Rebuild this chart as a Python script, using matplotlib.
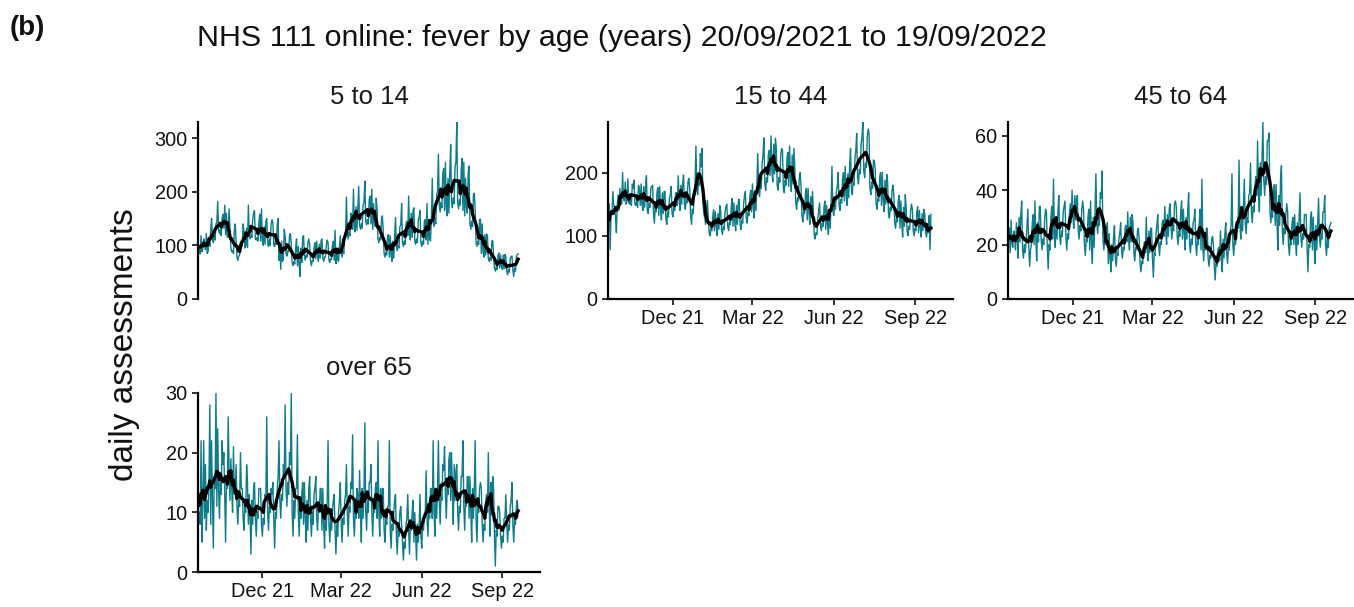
"""
fever_by_age.py  -  NHS 111 online fever assessments by age band, daily with 7-day average.
"""

import matplotlib
matplotlib.use("Agg")
import matplotlib.dates as mdates
import matplotlib.pyplot as plt
import numpy as np
import pandas as pd


START_DATE = "2021-09-20"
END_DATE = "2022-09-19"

PANEL_TITLES = ["5 to 14", "15 to 44", "45 to 64", "over 65"]
X_TICK_DATES = ["2021-12-01", "2022-03-01", "2022-06-01", "2022-09-01"]
Y_TICKS = [[0, 100, 200, 300], [0, 100, 200], [0, 20, 40, 60], [0, 10, 20, 30]]

# daily assessments, one row per week (Mon..Sun), last row is the final day
age_5_14 = [
    98, 84, 118, 88, 95, 112, 104,
    92, 122, 85, 88, 115, 98, 128,
    150, 112, 105, 118, 110, 140, 142,
    182, 128, 122, 130, 118, 150, 158,
    132, 175, 120, 160, 115, 128, 168,
    130, 95, 88, 90, 85, 128, 140,
    110, 78, 72, 80, 82, 100, 108,
    98, 140, 125, 95, 100, 132, 96,
    175, 118, 112, 120, 115, 148, 160,
    165, 112, 110, 115, 108, 142, 158,
    108, 168, 110, 100, 135, 102, 145,
    150, 105, 98, 112, 100, 140, 148,
    142, 100, 98, 108, 102, 138, 150,
    72, 100, 55, 108, 70, 75, 130,
    118, 85, 80, 90, 88, 118, 122,
    100, 68, 62, 70, 65, 95, 112,
    62, 98, 65, 42, 95, 68, 115,
    118, 80, 72, 82, 78, 105, 112,
    102, 70, 62, 72, 70, 95, 105,
    75, 108, 80, 70, 102, 76, 108,
    112, 76, 70, 78, 78, 100, 110,
    105, 72, 68, 75, 74, 100, 108,
    72, 128, 66, 95, 74, 70, 98,
    118, 85, 78, 90, 85, 120, 125,
    190, 120, 112, 125, 118, 160, 155,
    130, 205, 135, 125, 172, 128, 170,
    210, 138, 130, 140, 132, 175, 180,
    220, 145, 138, 148, 140, 185, 192,
    140, 205, 130, 178, 142, 135, 188,
    165, 112, 105, 115, 110, 148, 155,
    128, 85, 78, 88, 82, 118, 120,
    78, 118, 82, 70, 108, 76, 115,
    152, 98, 90, 100, 95, 135, 138,
    178, 105, 98, 108, 102, 140, 145,
    118, 192, 122, 110, 160, 115, 165,
    170, 108, 102, 112, 105, 148, 152,
    165, 105, 98, 108, 102, 145, 148,
    110, 178, 102, 148, 112, 108, 152,
    225, 145, 135, 150, 140, 195, 200,
    270, 175, 162, 180, 170, 235, 243,
    165, 255, 170, 155, 225, 160, 235,
    288, 180, 170, 188, 178, 245, 256,
    330, 180, 168, 185, 175, 240, 262,
    165, 255, 155, 225, 170, 160, 235,
    248, 140, 130, 145, 135, 195, 197,
    165, 105, 98, 108, 102, 148, 149,
    85, 140, 88, 78, 120, 82, 121,
    118, 75, 70, 78, 72, 108, 109,
    85, 58, 52, 60, 55, 80, 86,
    58, 82, 60, 55, 82, 56, 83,
    78, 52, 45, 55, 50, 75, 79,
    80, 55, 42, 58, 52, 78, 83,
    84,
]

age_15_44 = [
    150, 78, 140, 135, 170, 148, 145,
    130, 105, 150, 165, 140, 175, 150,
    150, 200, 160, 155, 185, 150, 155,
    190, 152, 150, 158, 148, 182, 175,
    188, 150, 148, 155, 145, 180, 175,
    148, 182, 150, 140, 178, 145, 177,
    195, 140, 135, 152, 145, 175, 178,
    180, 135, 120, 145, 138, 170, 176,
    132, 178, 142, 125, 168, 135, 170,
    170, 128, 118, 138, 130, 160, 164,
    178, 135, 130, 145, 140, 168, 168,
    148, 195, 158, 140, 180, 150, 184,
    196, 150, 142, 160, 152, 185, 191,
    175, 132, 118, 142, 135, 168, 180,
    242, 175, 165, 185, 180, 230, 209,
    238, 150, 135, 128, 118, 125, 156,
    130, 105, 100, 112, 108, 130, 141,
    108, 138, 115, 100, 135, 110, 148,
    140, 110, 102, 115, 110, 138, 146,
    150, 115, 108, 122, 118, 145, 159,
    115, 152, 122, 108, 148, 118, 154,
    158, 118, 110, 125, 120, 150, 164,
    170, 128, 120, 138, 132, 162, 172,
    138, 182, 145, 128, 172, 140, 180,
    230, 172, 162, 182, 175, 215, 229,
    255, 182, 172, 192, 185, 228, 235,
    195, 258, 205, 185, 245, 198, 254,
    240, 180, 172, 192, 185, 228, 238,
    235, 175, 168, 188, 180, 222, 232,
    178, 242, 190, 170, 228, 182, 238,
    205, 152, 142, 160, 155, 190, 200,
    178, 132, 122, 140, 135, 168, 175,
    125, 175, 135, 118, 162, 130, 170,
    135, 100, 95, 105, 102, 128, 140,
    152, 115, 108, 120, 115, 145, 155,
    110, 148, 118, 102, 140, 112, 152,
    210, 140, 132, 148, 142, 170, 178,
    200, 150, 140, 158, 152, 190, 200,
    155, 210, 165, 148, 198, 160, 210,
    238, 175, 165, 185, 180, 222, 235,
    262, 192, 182, 205, 198, 245, 256,
    280, 202, 192, 215, 208, 258, 269,
    262, 175, 165, 185, 175, 220, 218,
    205, 150, 142, 160, 155, 192, 200,
    148, 200, 155, 138, 188, 150, 197,
    185, 135, 128, 145, 140, 172, 180,
    165, 120, 112, 128, 122, 155, 164,
    112, 155, 120, 98, 145, 115, 165,
    145, 108, 100, 115, 110, 140, 150,
    142, 108, 100, 112, 108, 138, 146,
    105, 140, 112, 98, 135, 108, 142,
    135, 105, 98, 110, 105, 132, 78,
    134,
]

age_45_64 = [
    26, 17, 29, 20, 19, 25, 23,
    18, 28, 22, 15, 30, 21, 31,
    36, 18, 15, 20, 17, 21, 27,
    33, 19, 12, 18, 20, 28, 31,
    20, 36, 22, 14, 28, 21, 34,
    34, 22, 18, 22, 20, 29, 33,
    32, 19, 11, 20, 18, 30, 34,
    22, 44, 24, 19, 30, 22, 32,
    38, 23, 20, 25, 23, 32, 34,
    36, 23, 18, 24, 22, 31, 35,
    28, 40, 30, 26, 38, 29, 37,
    38, 25, 22, 27, 25, 33, 36,
    33, 20, 16, 22, 21, 30, 33,
    18, 36, 20, 13, 30, 19, 32,
    46, 28, 24, 30, 27, 39, 37,
    47, 22, 18, 22, 20, 25, 28,
    13, 24, 15, 10, 20, 14, 23,
    27, 15, 12, 17, 16, 22, 24,
    28, 18, 15, 19, 18, 26, 27,
    21, 32, 22, 18, 30, 21, 31,
    28, 17, 14, 19, 18, 25, 26,
    22, 13, 10, 14, 13, 19, 21,
    17, 30, 18, 14, 25, 17, 26,
    26, 15, 8, 17, 16, 24, 27,
    31, 20, 16, 21, 20, 28, 29,
    23, 34, 25, 20, 31, 23, 33,
    35, 26, 22, 27, 25, 35, 36,
    34, 23, 20, 25, 23, 32, 36,
    22, 33, 24, 18, 30, 22, 33,
    39, 20, 17, 22, 20, 28, 29,
    33, 20, 16, 22, 20, 28, 33,
    18, 44, 19, 14, 22, 18, 26,
    26, 15, 12, 16, 15, 22, 23,
    20, 12, 7, 13, 12, 18, 19,
    14, 25, 16, 10, 22, 15, 24,
    28, 17, 13, 19, 18, 25, 27,
    46, 20, 16, 22, 20, 24, 27,
    26, 51, 27, 22, 31, 25, 35,
    44, 28, 24, 30, 28, 38, 39,
    50, 32, 28, 34, 32, 42, 45,
    38, 58, 40, 32, 50, 38, 52,
    65, 44, 38, 45, 42, 58, 58,
    61, 32, 28, 33, 30, 40, 42,
    27, 42, 28, 18, 38, 27, 44,
    49, 25, 20, 26, 24, 31, 35,
    32, 20, 16, 22, 20, 28, 30,
    20, 31, 21, 16, 28, 20, 29,
    39, 23, 19, 24, 22, 31, 31,
    31, 19, 10, 20, 19, 30, 32,
    18, 30, 20, 13, 27, 18, 28,
    37, 23, 19, 24, 22, 32, 32,
    38, 20, 16, 22, 19, 26, 27,
    28,
]

age_over_65 = [
    10, 8, 22, 5, 12, 22, 9,
    18, 7, 12, 10, 15, 28, 8,
    22, 12, 4, 16, 14, 30, 11,
    24, 14, 9, 15, 13, 22, 18,
    20, 13, 5, 16, 14, 26, 17,
    12, 19, 14, 10, 21, 13, 13,
    18, 11, 8, 12, 11, 20, 14,
    14, 9, 7, 11, 10, 18, 15,
    8, 13, 9, 3, 12, 8, 14,
    15, 9, 6, 10, 9, 14, 14,
    14, 8, 6, 9, 8, 13, 12,
    26, 10, 7, 11, 10, 14, 13,
    15, 9, 4, 10, 9, 14, 16,
    22, 12, 9, 13, 12, 18, 16,
    28, 14, 11, 15, 13, 20, 18,
    30, 10, 6, 12, 9, 14, 14,
    23, 10, 6, 11, 9, 13, 15,
    8, 15, 9, 5, 12, 7, 14,
    16, 9, 6, 10, 8, 13, 14,
    16, 9, 7, 11, 10, 14, 14,
    7, 14, 8, 4, 11, 7, 12,
    22, 8, 5, 9, 7, 10, 12,
    13, 7, 3, 8, 6, 10, 12,
    15, 8, 5, 9, 8, 12, 13,
    18, 10, 6, 11, 10, 15, 14,
    23, 9, 6, 10, 9, 14, 13,
    9, 17, 10, 5, 14, 9, 13,
    25, 10, 7, 12, 10, 15, 15,
    18, 10, 6, 11, 10, 14, 15,
    9, 22, 10, 6, 14, 9, 14,
    14, 7, 5, 9, 8, 11, 11,
    22, 7, 4, 8, 7, 10, 12,
    13, 6, 3, 7, 6, 10, 11,
    8, 5, 2, 5, 4, 8, 9,
    13, 7, 3, 8, 7, 10, 12,
    5, 10, 6, 2, 8, 5, 8,
    13, 6, 4, 8, 7, 10, 10,
    17, 9, 6, 10, 9, 14, 14,
    9, 22, 10, 6, 14, 9, 14,
    22, 12, 8, 13, 12, 18, 17,
    21, 13, 9, 14, 13, 19, 20,
    12, 20, 13, 8, 18, 12, 17,
    18, 10, 7, 11, 10, 16, 16,
    22, 11, 7, 12, 11, 16, 16,
    9, 16, 10, 5, 14, 9, 14,
    22, 9, 5, 11, 10, 14, 15,
    14, 8, 5, 8, 7, 12, 13,
    10, 20, 11, 6, 15, 10, 16,
    14, 6, 1, 7, 6, 11, 11,
    10, 6, 4, 6, 5, 9, 9,
    13, 8, 5, 8, 7, 11, 12,
    15, 8, 5, 9, 8, 11, 12,
    10,
]

DAILY_COLOUR = "#0e7c8b"
AVG_COLOUR = "black"
FIG_W, FIG_H = 1354, 607

# panel boxes in pixels: (left, top, right, bottom)
PANEL_BOXES = [
    (198, 122, 540, 299),
    (608, 122, 953, 299),
    (1008, 122, 1353, 299),
    (198, 393, 540, 572),
]

plt.rcParams["font.family"] = ["Liberation Sans", "DejaVu Sans"]


def box_to_rect(box):
    left, top, right, bottom = box
    return [left / FIG_W, 1 - bottom / FIG_H, (right - left) / FIG_W, (bottom - top) / FIG_H]


def draw_panel(ax, dates, counts, title, yticks, show_x):
    series = pd.Series(counts, index=dates, dtype=float)
    rolling = series.rolling(7, center=True, min_periods=1).mean()

    ax.plot(dates, series.values, color=DAILY_COLOUR, linewidth=1.0)
    ax.plot(dates, rolling.values, color=AVG_COLOUR, linewidth=2.4)

    ax.set_xlim(dates[0] - pd.Timedelta(days=1.5), dates[0] + pd.Timedelta(days=389))
    ax.set_ylim(0, series.max())
    ax.set_yticks(yticks)

    for side in ("top", "right"):
        ax.spines[side].set_visible(False)
    ax.spines["left"].set_linewidth(1.6)
    ax.tick_params(axis="both", length=4.5, width=1.3, labelsize=14.3, color="#222222",
                   labelcolor="#111111", pad=3)

    if show_x:
        ax.spines["bottom"].set_linewidth(1.6)
        ax.set_xticks(pd.to_datetime(X_TICK_DATES))
        ax.xaxis.set_major_formatter(mdates.DateFormatter("%b %y"))
    else:
        ax.spines["bottom"].set_visible(False)
        ax.set_xticks([])

    ax.text(0.5, 1.0 + 25 / 178, title, transform=ax.transAxes, ha="center", va="center",
            fontsize=18.5, color="#1a1a1a")


def main() -> None:
    dates = pd.date_range(START_DATE, END_DATE, freq="D")
    panels = [age_5_14, age_15_44, age_45_64, age_over_65]

    fig = plt.figure(figsize=(FIG_W / 100, FIG_H / 100), dpi=100)

    for idx, counts in enumerate(panels):
        ax = fig.add_axes(box_to_rect(PANEL_BOXES[idx]))
        draw_panel(ax, dates, np.array(counts), PANEL_TITLES[idx], Y_TICKS[idx], show_x=(idx != 0))

    fig.text(197 / FIG_W, 1 - 38 / FIG_H, "NHS 111 online: fever by age (years) 20/09/2021 to 19/09/2022",
             ha="left", va="center", fontsize=21.9, color="#111111")
    fig.text(10 / FIG_W, 1 - 28 / FIG_H, "(b)", ha="left", va="center", fontsize=20,
             fontweight="bold", color="#111111")
    fig.text(125 / FIG_W, 1 - 345 / FIG_H, "daily assessments", ha="center", va="center",
             rotation=90, fontsize=24, color="#111111")

    fig.savefig("out.png", dpi=100)


if __name__ == "__main__":
    main()
